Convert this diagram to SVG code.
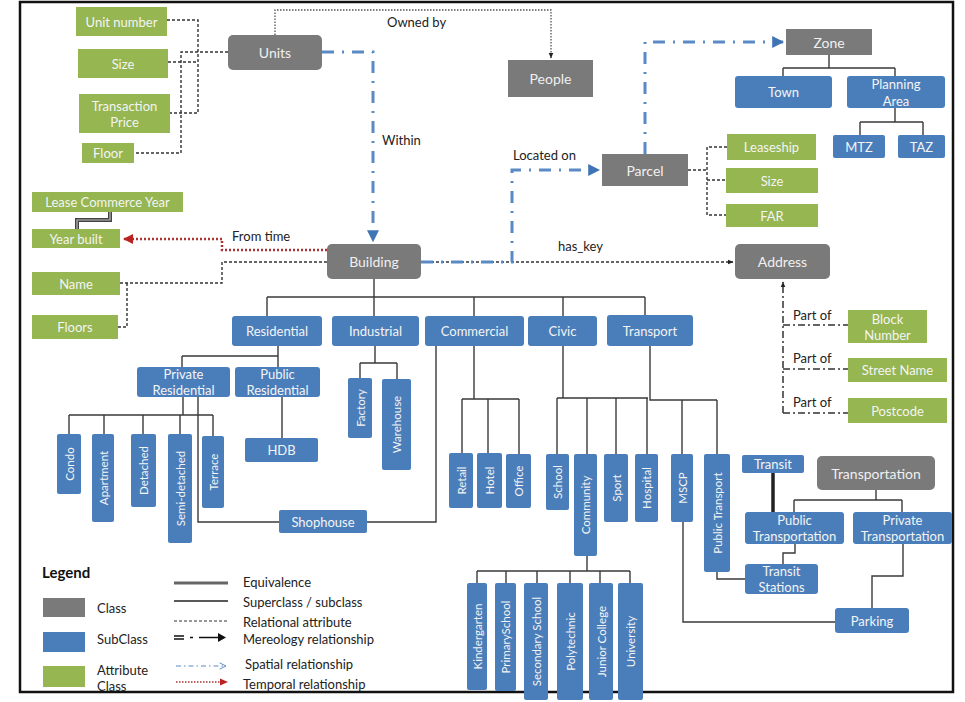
<svg xmlns="http://www.w3.org/2000/svg" width="965" height="702" viewBox="0 0 965 702">
<style>
.g{fill:#7a7a7a}
.b{fill:#4a7ebb}
.a{fill:#95b651}
text{font-family:Lato,"Open Sans","Liberation Sans",sans-serif}
.t{font-size:13px;fill:#f4f4f4;text-anchor:middle;dominant-baseline:central}
.tg{font-size:14px;fill:#f0f0f0;text-anchor:middle;dominant-baseline:central}
.v{font-size:11.5px;fill:#f4f4f4;text-anchor:middle;dominant-baseline:central}
.l{font-size:13px;fill:#222;dominant-baseline:central}
.sol{stroke:#3a3a3a;stroke-width:1.4;fill:none}
.dash{stroke:#333;stroke-width:1.4;stroke-dasharray:3 2;fill:none}
.dot{stroke:#555;stroke-width:1.3;stroke-dasharray:1.5 1.5;fill:none}
.spat{stroke:#5a8ac6;stroke-width:3;stroke-dasharray:12 8 2 8;fill:none}
.temp{stroke:#a33;stroke-width:2.5;stroke-dasharray:2 2;fill:none}
.mer{stroke:#333;stroke-width:1.5;stroke-dasharray:7 3 2 3;fill:none}
.eqo{stroke:#444;stroke-width:4;fill:none}
.eqi{stroke:#bbb;stroke-width:1.2;fill:none}
</style>
<defs>
<marker id="ab" viewBox="0 0 10 10" refX="9" refY="5" markerWidth="4" markerHeight="4" orient="auto"><path d="M0,0L10,5L0,10z" fill="#3f75b5"/></marker>
<marker id="ak" viewBox="0 0 10 10" refX="9" refY="5" markerWidth="6" markerHeight="6" orient="auto" markerUnits="userSpaceOnUse"><path d="M0,1L10,5L0,9z" fill="#222"/></marker>
<marker id="ar" viewBox="0 0 10 10" refX="9" refY="5" markerWidth="4" markerHeight="4" orient="auto"><path d="M0,0L10,5L0,10z" fill="#b22"/></marker>
<marker id="ao" viewBox="0 0 10 10" refX="9" refY="5" markerWidth="8" markerHeight="8" orient="auto" markerUnits="userSpaceOnUse"><path d="M1,1L9,5L1,9" fill="none" stroke="#5a8ac6" stroke-width="1.2"/></marker>
</defs>
<rect x="0" y="0" width="965" height="702" fill="#fff"/>
<rect x="20" y="2" width="933" height="690" fill="none" stroke="#111" stroke-width="2.5"/>

<g id="connectors">
<!-- relational attributes -->
<path class="dash" d="M167,20H198V113H170M168,62H198M228,52H181V153H134"/>
<path class="dot" d="M275,35V10H551V58" marker-end="url(#ak)"/>
<path class="dash" d="M688,170H707M727,147H707V215H726M707,180H726"/>
<path class="dash" d="M421,262H733" marker-end="url(#ak)"/>
<path class="dash" d="M327,262H222V283H120M127,283V327H118"/>
<!-- temporal -->
<path class="temp" d="M327,250H222V239H124" marker-end="url(#ar)"/>
<!-- spatial -->
<path class="spat" d="M322,52H373V241" marker-end="url(#ab)"/>
<path class="spat" d="M421,262H512V170H599" marker-end="url(#ab)"/>
<path class="spat" d="M645,154V42H783" marker-end="url(#ab)"/>
<!-- mereology -->
<path class="mer" d="M783,413V282" marker-end="url(#ak)"/>
<path class="mer" d="M783,325H848M783,369H848M783,413H848"/>
<!-- superclass / subclass -->
<path class="sol" d="M829,55V68M783,68H895M783,68V76M895,68V76"/>
<path class="sol" d="M895,108V122M860,122H923M860,122V135M923,122V135"/>
<path class="sol" d="M374,279V316M267,297H645M267,297V316M474,297V316M563,297V316M645,297V315"/>
<path class="sol" d="M278,346V356M182,356H278M182,356V367M278,356V367"/>
<path class="sol" d="M183,397V415M69,415H213M69,415V434M104,415V434M143,415V434M180,415V434M213,415V436"/>
<path class="sol" d="M198,397V522H279M436,346V522H367M282,397V438"/>
<path class="sol" d="M375,346V363M360,363H397M360,363V378M397,363V379"/>
<path class="sol" d="M474,346V399" stroke-width="2.2"/>
<path class="sol" d="M462,399H519M462,399V453M488,399V453M519,399V454"/>
<path class="sol" d="M563,346V398M557,398H648M557,398V454M587,398V454M616,398V454M647,398V454"/>
<path class="sol" d="M650,346V400H717M682,400V454M717,400V454"/>
<path class="sol" d="M587,556V571M477,571H630M477,571V583M506,571V583M537,571V583M570,571V583M600,571V583M630,571V583"/>
<path class="sol" d="M876,490V500M794,500H902M794,500V512M902,500V512"/>
<path class="sol" d="M795,544V553H783V564M717,572V579H745M683,522V622H835M903,544V576H872V608"/>
<!-- equivalence -->
<path d="M773,473V512" stroke="#222" stroke-width="3.5" fill="none"/>
<path class="eqo" d="M110,212V220H77V229"/>
<path class="eqi" d="M110,212V220H77V229"/>
</g>

<g id="labels">
<text class="l" x="387" y="22">Owned by</text>
<text class="l" x="382" y="140">Within</text>
<text class="l" x="513" y="155">Located on</text>
<text class="l" x="232" y="236">From time</text>
<text class="l" x="558" y="246">has_key</text>
<text class="l" x="793" y="315">Part of</text>
<text class="l" x="793" y="358">Part of</text>
<text class="l" x="793" y="402">Part of</text>
</g>

<!-- attribute classes -->
<g id="unit-number"><rect class="a" x="76" y="7" width="91" height="29"/><text class="t" x="121.5" y="21.5">Unit number</text></g>
<g id="size-unit"><rect class="a" x="78" y="49" width="90" height="29"/><text class="t" x="123" y="63.5">Size</text></g>
<g id="transaction-price"><rect class="a" x="79" y="94" width="91" height="39"/><text class="t" x="124.5" y="106">Transaction</text><text class="t" x="124.5" y="122">Price</text></g>
<g id="floor"><rect class="a" x="82" y="143" width="52" height="20"/><text class="t" x="108" y="153">Floor</text></g>
<g id="lease-commerce-year"><rect class="a" x="32" y="192" width="151" height="20"/><text class="t" x="107.5" y="202" font-size="12">Lease Commerce Year</text></g>
<g id="year-built"><rect class="a" x="32" y="229" width="88" height="19"/><text class="t" x="76" y="238.5">Year built</text></g>
<g id="name"><rect class="a" x="32" y="272" width="88" height="23"/><text class="t" x="76" y="283.5">Name</text></g>
<g id="floors"><rect class="a" x="32" y="315" width="86" height="24"/><text class="t" x="75" y="327">Floors</text></g>
<g id="leaseship"><rect class="a" x="727" y="134" width="89" height="26"/><text class="t" x="771.5" y="147">Leaseship</text></g>
<g id="size-parcel"><rect class="a" x="726" y="168" width="92" height="25"/><text class="t" x="772" y="180.5">Size</text></g>
<g id="far"><rect class="a" x="726" y="204" width="92" height="23"/><text class="t" x="772" y="215.5">FAR</text></g>
<g id="block-number"><rect class="a" x="848" y="310" width="79" height="33"/><text class="t" x="887.5" y="319">Block</text><text class="t" x="887.5" y="335">Number</text></g>
<g id="street-name"><rect class="a" x="848" y="358" width="99" height="24"/><text class="t" x="897.5" y="370">Street Name</text></g>
<g id="postcode"><rect class="a" x="848" y="398" width="99" height="25"/><text class="t" x="897.5" y="410.5">Postcode</text></g>

<!-- classes -->
<g id="units"><rect class="g" x="228" y="35" width="94" height="35" rx="5"/><text class="tg" x="275" y="52.5">Units</text></g>
<g id="people"><rect class="g" x="508" y="60" width="85" height="37"/><text class="tg" x="550.5" y="78.5">People</text></g>
<g id="zone"><rect class="g" x="786" y="29" width="86" height="26"/><text class="tg" x="829" y="42">Zone</text></g>
<g id="parcel"><rect class="g" x="602" y="154" width="86" height="32"/><text class="tg" x="645" y="170">Parcel</text></g>
<g id="building"><rect class="g" x="327" y="244" width="94" height="35" rx="5"/><text class="tg" x="374" y="261.5">Building</text></g>
<g id="address"><rect class="g" x="735" y="244" width="95" height="35" rx="5"/><text class="tg" x="782.5" y="261.5">Address</text></g>
<g id="transportation"><rect class="g" x="817" y="456" width="118" height="34" rx="5"/><text class="tg" x="876" y="473">Transportation</text></g>

<!-- subclasses -->
<g id="town"><rect class="b" x="735" y="76" width="97" height="32" rx="3"/><text class="t" x="783.5" y="92">Town</text></g>
<g id="planning-area"><rect class="b" x="847" y="76" width="98" height="32" rx="3"/><text class="t" x="896" y="84">Planning</text><text class="t" x="896" y="101">Area</text></g>
<g id="mtz"><rect class="b" x="833" y="135" width="52" height="23" rx="2"/><text class="t" x="859" y="146.5">MTZ</text></g>
<g id="taz"><rect class="b" x="898" y="135" width="47" height="23" rx="2"/><text class="t" x="921.5" y="146.5">TAZ</text></g>
<g id="residential"><rect class="b" x="232" y="316" width="90" height="30" rx="3"/><text class="t" x="277" y="331">Residential</text></g>
<g id="industrial"><rect class="b" x="332" y="316" width="87" height="30" rx="3"/><text class="t" x="375.5" y="331">Industrial</text></g>
<g id="commercial"><rect class="b" x="425" y="316" width="99" height="30" rx="3"/><text class="t" x="474.5" y="331">Commercial</text></g>
<g id="civic"><rect class="b" x="528" y="316" width="69" height="30" rx="3"/><text class="t" x="562.5" y="331">Civic</text></g>
<g id="transport"><rect class="b" x="607" y="315" width="86" height="31" rx="3"/><text class="t" x="650" y="330.5">Transport</text></g>
<g id="private-residential"><rect class="b" x="137" y="367" width="93" height="30" rx="3"/><text class="t" x="183.5" y="374">Private</text><text class="t" x="183.5" y="390">Residential</text></g>
<g id="public-residential"><rect class="b" x="235" y="367" width="85" height="30" rx="3"/><text class="t" x="277.5" y="374">Public</text><text class="t" x="277.5" y="390">Residential</text></g>
<g id="hdb"><rect class="b" x="245" y="438" width="73" height="24" rx="2"/><text class="t" x="281.5" y="450">HDB</text></g>
<g id="shophouse"><rect class="b" x="279" y="510" width="88" height="23" rx="2"/><text class="t" x="323" y="521.5">Shophouse</text></g>
<g id="transit"><rect class="b" x="742" y="455" width="62" height="18" rx="2"/><text class="t" x="773" y="464">Transit</text></g>
<g id="public-transportation"><rect class="b" x="745" y="512" width="99" height="32" rx="3"/><text class="t" x="794.5" y="520">Public</text><text class="t" x="794.5" y="536">Transportation</text></g>
<g id="private-transportation"><rect class="b" x="853" y="512" width="99" height="32" rx="3"/><text class="t" x="902.5" y="520">Private</text><text class="t" x="902.5" y="536">Transportation</text></g>
<g id="transit-stations"><rect class="b" x="745" y="564" width="73" height="30" rx="3"/><text class="t" x="781.5" y="571">Transit</text><text class="t" x="781.5" y="587">Stations</text></g>
<g id="parking"><rect class="b" x="835" y="608" width="74" height="25" rx="3"/><text class="t" x="872" y="620.5">Parking</text></g>

<g id="condo"><rect class="b" x="57" y="434" width="24" height="60" rx="2"/><text class="v" x="69" y="464" transform="rotate(-90 69 464)">Condo</text></g>
<g id="apartment"><rect class="b" x="92" y="434" width="22" height="88" rx="2"/><text class="v" x="103" y="478" transform="rotate(-90 103 478)">Apartment</text></g>
<g id="detached"><rect class="b" x="131" y="434" width="25" height="73" rx="2"/><text class="v" x="143.5" y="470.5" transform="rotate(-90 143.5 470.5)">Detached</text></g>
<g id="semi-detached"><rect class="b" x="168" y="434" width="24" height="109" rx="2"/><text class="v" x="180" y="488.5" transform="rotate(-90 180 488.5)">Semi-detached</text></g>
<g id="terrace"><rect class="b" x="202" y="436" width="22" height="72" rx="2"/><text class="v" x="213" y="472" transform="rotate(-90 213 472)">Terrace</text></g>
<g id="factory"><rect class="b" x="348" y="378" width="24" height="60" rx="2"/><text class="v" x="360" y="408" transform="rotate(-90 360 408)">Factory</text></g>
<g id="warehouse"><rect class="b" x="382" y="379" width="29" height="91" rx="2"/><text class="v" x="396.5" y="424.5" transform="rotate(-90 396.5 424.5)">Warehouse</text></g>
<g id="retail"><rect class="b" x="449" y="453" width="24" height="55" rx="2"/><text class="v" x="461" y="480.5" transform="rotate(-90 461 480.5)">Retail</text></g>
<g id="hotel"><rect class="b" x="477" y="453" width="25" height="55" rx="2"/><text class="v" x="489.5" y="480.5" transform="rotate(-90 489.5 480.5)">Hotel</text></g>
<g id="office"><rect class="b" x="506" y="454" width="25" height="54" rx="2"/><text class="v" x="518.5" y="481" transform="rotate(-90 518.5 481)">Office</text></g>
<g id="school"><rect class="b" x="546" y="454" width="23" height="56" rx="2"/><text class="v" x="557.5" y="482" transform="rotate(-90 557.5 482)">School</text></g>
<g id="community"><rect class="b" x="574" y="454" width="23" height="102" rx="2"/><text class="v" x="585.5" y="505" transform="rotate(-90 585.5 505)">Community</text></g>
<g id="sport"><rect class="b" x="604" y="454" width="24" height="68" rx="2"/><text class="v" x="616" y="488" transform="rotate(-90 616 488)">Sport</text></g>
<g id="hospital"><rect class="b" x="635" y="454" width="23" height="68" rx="2"/><text class="v" x="646.5" y="488" transform="rotate(-90 646.5 488)">Hospital</text></g>
<g id="mscp"><rect class="b" x="671" y="454" width="22" height="68" rx="2"/><text class="v" x="682" y="488" transform="rotate(-90 682 488)">MSCP</text></g>
<g id="public-transport"><rect class="b" x="704" y="454" width="26" height="118" rx="2"/><text class="v" x="717" y="513" transform="rotate(-90 717 513)">Public Transport</text></g>
<g id="kindergarten"><rect class="b" x="467" y="583" width="20" height="107" rx="2"/><text class="v" x="477" y="636.5" transform="rotate(-90 477 636.5)">Kindergarten</text></g>
<g id="primary-school"><rect class="b" x="495" y="583" width="21" height="108" rx="2"/><text class="v" x="505.5" y="637" transform="rotate(-90 505.5 637)">PrimarySchool</text></g>
<g id="secondary-school"><rect class="b" x="524" y="583" width="24" height="117" rx="2"/><text class="v" x="536" y="641.5" transform="rotate(-90 536 641.5)">Secondary School</text></g>
<g id="polytechnic"><rect class="b" x="557" y="583" width="26" height="117" rx="2"/><text class="v" x="570" y="641.5" transform="rotate(-90 570 641.5)">Polytechnic</text></g>
<g id="junior-college"><rect class="b" x="589" y="583" width="24" height="117" rx="2"/><text class="v" x="601" y="641.5" transform="rotate(-90 601 641.5)">Junior College</text></g>
<g id="university"><rect class="b" x="618" y="583" width="25" height="117" rx="2"/><text class="v" x="630.5" y="641.5" transform="rotate(-90 630.5 641.5)">University</text></g>

<g id="legend">
<text x="42" y="572" font-size="15" font-weight="bold" fill="#111" dominant-baseline="central">Legend</text>
<rect class="g" x="43" y="598" width="42" height="19"/>
<text class="l" x="97" y="608">Class</text>
<rect class="b" x="43" y="632" width="42" height="20"/>
<text class="l" x="97" y="639">SubClass</text>
<rect class="a" x="43" y="666" width="42" height="21"/>
<text class="l" x="97" y="670">Attribute</text>
<text class="l" x="97" y="686">Class</text>
<path d="M174,583H228" stroke="#666" stroke-width="3" fill="none"/>
<path d="M174,601H228" stroke="#222" stroke-width="1.3" fill="none"/>
<path d="M174,621H228" stroke="#333" stroke-width="1.2" stroke-dasharray="3 2" fill="none"/>
<path d="M174,636H184M174,639H184M190,637.5H193M199,637.5H224" stroke="#111" stroke-width="1.5" fill="none"/>
<path d="M218,633L226,637.5L218,642z" fill="#111"/>
<path d="M176,666H226" stroke="#5a8ac6" stroke-width="1.2" stroke-dasharray="5 3 1.5 3" fill="none" marker-end="url(#ao)"/>
<path d="M176,682H222" stroke="#a33" stroke-width="1.3" stroke-dasharray="1.5 1.5" fill="none"/>
<path d="M220,678.5L228,682L220,685.5z" fill="#b22"/>
<text class="l" x="243" y="582">Equivalence</text>
<text class="l" x="243" y="602">Superclass / subclass</text>
<text class="l" x="243" y="622">Relational attribute</text>
<text class="l" x="243" y="639">Mereology relationship</text>
<text class="l" x="245" y="664">Spatial relationship</text>
<text class="l" x="243" y="684">Temporal relationship</text>
</g>
</svg>
